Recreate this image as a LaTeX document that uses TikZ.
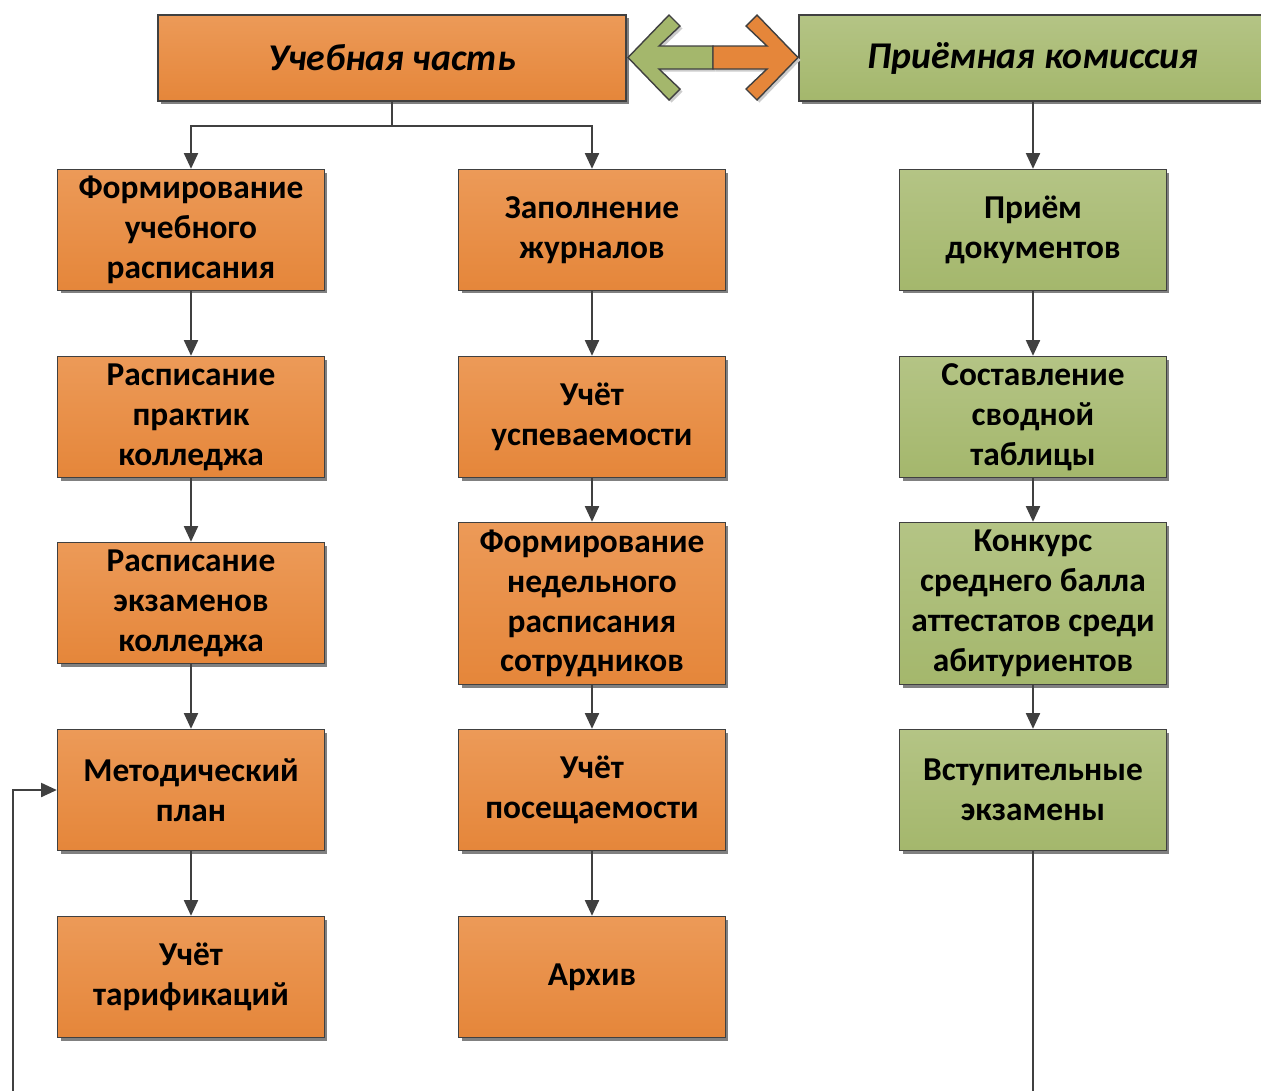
\documentclass[tikz,border=0pt]{standalone}
\usepackage{fontspec}
\setmainfont{Carlito}
\usetikzlibrary{arrows.meta,shadows}
\definecolor{orangeTop}{HTML}{EC9A58}
\definecolor{orangeBot}{HTML}{E5863A}
\definecolor{greenTop}{HTML}{B4C485}
\definecolor{greenBot}{HTML}{A4B76C}
\definecolor{lineGray}{HTML}{404040}

\begin{document}
\begin{tikzpicture}[x=0.02cm,y=-0.02cm]
    \tikzstyle{box}=[draw=lineGray, line width=0.8pt, minimum width=5.34cm, minimum height=2.42cm, inner sep=1pt, align=center, font=\fontsize{19}{22.7}\selectfont\bfseries, drop shadow={shadow xshift=0.06cm, shadow yshift=-0.06cm, fill=black!50, opacity=1}]
    \tikzstyle{orange box}=[box, top color=orangeTop, bottom color=orangeBot]
    \tikzstyle{green box}=[box, top color=greenTop, bottom color=greenBot]
    \tikzstyle{head box}=[minimum width=9.36cm, minimum height=1.72cm, font=\fontsize{21.5}{25}\selectfont\bfseries\itshape]
    \tikzstyle{tall}=[minimum height=3.24cm]
    \tikzstyle{line}=[draw=lineGray, line width=1.2pt]
    \tikzstyle{link}=[line, -{Triangle[length=9pt,width=8pt]}]
    \clip (0,0) rectangle (1261,1090);
    \node[orange box, head box] (U) at (392,58) {Учебная часть};
    \node[green box, head box] (P) at (1033,58) {Приёмная комиссия};
    \filldraw[draw=lineGray, line width=0.8pt, fill=greenBot, drop shadow={shadow xshift=0.05cm, shadow yshift=-0.05cm, fill=black!20, opacity=1}] (628,57.5) -- (669,15) -- (680,26) -- (659,46) -- (713,46) -- (713,69) -- (659,69) -- (680,89) -- (669,100) -- cycle;
    \filldraw[draw=lineGray, line width=0.8pt, fill=orangeBot, drop shadow={shadow xshift=0.05cm, shadow yshift=-0.05cm, fill=black!20, opacity=1}] (798,57.5) -- (757,15) -- (746,26) -- (767,46) -- (713,46) -- (713,69) -- (767,69) -- (746,89) -- (757,100) -- cycle;
    \node[orange box] (C1_1) at (191,230) {Формирование\\учебного\\расписания};
    \node[orange box] (C1_2) at (191,417) {Расписание\\практик\\колледжа};
    \node[orange box] (C1_3) at (191,603) {Расписание\\экзаменов\\колледжа};
    \node[orange box] (C1_4) at (191,790) {Методический\\план};
    \node[orange box] (C1_5) at (191,977) {Учёт\\тарификаций};
    \node[orange box] (C2_1) at (592,230) {Заполнение\\журналов};
    \node[orange box] (C2_2) at (592,417) {Учёт\\успеваемости};
    \node[orange box, tall] (C2_3) at (592,603.5) {Формирование\\недельного\\расписания\\сотрудников};
    \node[orange box] (C2_4) at (592,790) {Учёт\\посещаемости};
    \node[orange box] (C2_5) at (592,977) {Архив};
    \node[green box] (C3_1) at (1033,230) {Приём\\документов};
    \node[green box] (C3_2) at (1033,417) {Составление\\сводной\\таблицы};
    \node[green box, tall] (C3_3) at (1033,603.5) {Конкурс\\среднего балла\\аттестатов среди\\абитуриентов};
    \node[green box] (C3_4) at (1033,790) {Вступительные\\экзамены};
    \coordinate (split) at (392,126);
    \coordinate (out_L) at (13,1095);
    \coordinate (out_R) at (1033,1095);
    \draw[line] (U) -- (split);
    \draw[link] (split) -| (C1_1);
    \draw[link] (split) -| (C2_1);
    \draw[link] (P) -- (C3_1);
    \draw[link] (C1_1) -- (C1_2);
    \draw[link] (C1_2) -- (C1_3);
    \draw[link] (C1_3) -- (C1_4);
    \draw[link] (C1_4) -- (C1_5);
    \draw[link] (C2_1) -- (C2_2);
    \draw[link] (C2_2) -- (C2_3);
    \draw[link] (C2_3) -- (C2_4);
    \draw[link] (C2_4) -- (C2_5);
    \draw[link] (C3_1) -- (C3_2);
    \draw[link] (C3_2) -- (C3_3);
    \draw[link] (C3_3) -- (C3_4);
    \draw[link] (out_L) |- (C1_4);
    \draw[line] (C3_4) -- (out_R);
\end{tikzpicture}
\end{document}
